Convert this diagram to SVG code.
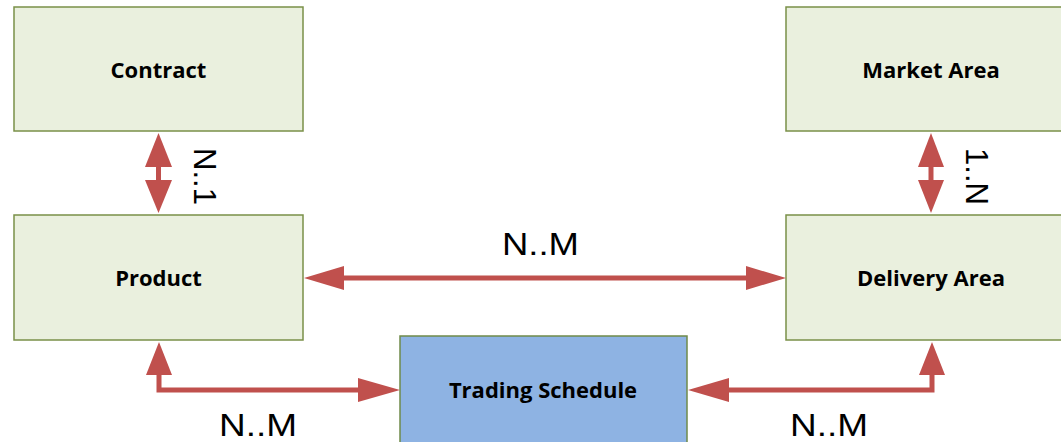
<svg xmlns="http://www.w3.org/2000/svg" width="1061" height="442" viewBox="0 0 1061 442">
<style>
.ent{fill:#EAF0DE;stroke:#7A9048;stroke-width:1.5}
.ts{fill:#8EB3E3;stroke:#6F8A4A;stroke-width:1.5}
.lbl{font-family:"Open Sans",sans-serif;font-weight:bold;font-size:22px;fill:#000;text-anchor:middle;dominant-baseline:central}
.card{font-family:"Liberation Sans",Arial,sans-serif;font-size:31px;fill:#000}
.ln{fill:none;stroke:#C0504D;stroke-width:5}
.hd{fill:#C0504D}
</style>
<rect width="1061" height="442" fill="#fff"/>
<g id="contract"><rect class="ent" x="14" y="7" width="289" height="124"/><text class="lbl" x="158.5" y="69">Contract</text></g>
<g id="product"><rect class="ent" x="14" y="215" width="289" height="125"/><text class="lbl" x="158.5" y="277">Product</text></g>
<g id="market-area"><rect class="ent" x="786" y="7" width="290" height="124"/><text class="lbl" x="931" y="69">Market Area</text></g>
<g id="delivery-area"><rect class="ent" x="786" y="215" width="290" height="125"/><text class="lbl" x="931" y="277">Delivery Area</text></g>
<g id="trading-schedule"><rect class="ts" x="400" y="336" width="287" height="120"/><text class="lbl" x="543" y="389">Trading Schedule</text></g>
<g id="connectors">
<line class="ln" x1="158.5" y1="160" x2="158.5" y2="185"/>
<polygon class="hd" points="158.5,133 145,167 172,167"/>
<polygon class="hd" points="158.5,213 145,180 172,180"/>
<text class="card" transform="translate(194,148) rotate(90)" textLength="57" lengthAdjust="spacingAndGlyphs">N..1</text>
<line class="ln" x1="931" y1="160" x2="931" y2="185"/>
<polygon class="hd" points="931,133 918,167 944,167"/>
<polygon class="hd" points="931,213 918,180 944,180"/>
<text class="card" transform="translate(966,148) rotate(90)" textLength="57" lengthAdjust="spacingAndGlyphs">1..N</text>
<line class="ln" x1="335" y1="278" x2="755" y2="278"/>
<polygon class="hd" points="304,278 344,266 344,290"/>
<polygon class="hd" points="786,278 746,266 746,290"/>
<text class="card" x="502" y="255" textLength="77" lengthAdjust="spacingAndGlyphs">N..M</text>
<polyline class="ln" points="159,368 159,390 365,390"/>
<polygon class="hd" points="159,342 146,375 172,375"/>
<polygon class="hd" points="400,390 358,378 358,402"/>
<text class="card" x="219" y="436" textLength="78" lengthAdjust="spacingAndGlyphs">N..M</text>
<polyline class="ln" points="722,390 932,390 932,368"/>
<polygon class="hd" points="932,342 919,375 945,375"/>
<polygon class="hd" points="688,390 729,378 729,402"/>
<text class="card" x="790" y="436" textLength="78" lengthAdjust="spacingAndGlyphs">N..M</text>
</g>
</svg>
